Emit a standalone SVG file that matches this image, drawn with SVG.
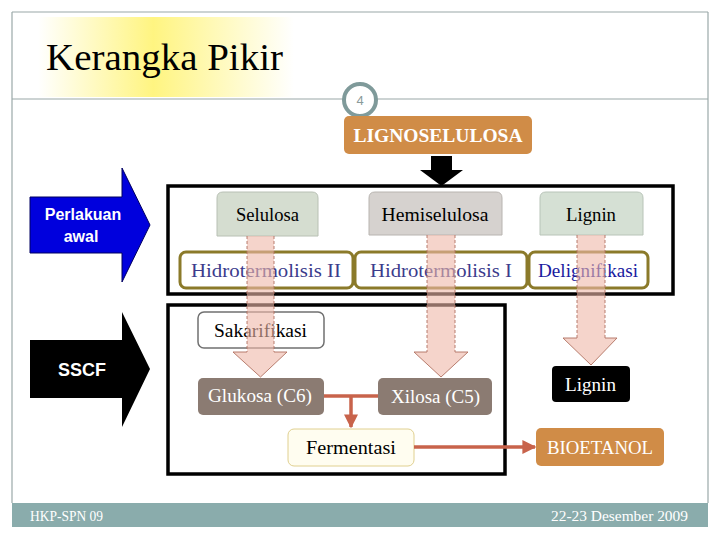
<svg xmlns="http://www.w3.org/2000/svg" width="720" height="540" viewBox="0 0 720 540" font-family="'Liberation Serif', 'DejaVu Serif', serif">
<defs>
<linearGradient id="yel" x1="0" y1="0" x2="1" y2="0">
<stop offset="0" stop-color="#fff47a" stop-opacity="0"/>
<stop offset="0.45" stop-color="#fff47a" stop-opacity="0.95"/>
<stop offset="1" stop-color="#fff47a" stop-opacity="0"/>
</linearGradient>
<marker id="oa" viewBox="0 0 10 10" refX="9" refY="5" markerWidth="4" markerHeight="4" orient="auto">
<path d="M0,0 L10,5 L0,10 z" fill="#c8634b"/>
</marker>
<style>
.frame{stroke:#9aa8a8;stroke-width:1.2;fill:none}
.t18{font-size:18px}
.hid{fill:#ffffff;stroke:#8b7a2a;stroke-width:3}
.hidt{fill:#3c3c8c}
.bbox{fill:none;stroke:#000;stroke-width:3.5}
.brown{fill:#8b7b72}
.orange{fill:#d08c47}
.pink{fill:#eeb8a8;fill-opacity:0.6;stroke:none}
.pinkd{stroke:#b07060;stroke-width:0.9;stroke-dasharray:3,2;fill:none}
.pinkh{fill:none;stroke:#b07060;stroke-width:0.9}
.oline{stroke:#c8634b;stroke-width:3.5;fill:none}
</style>
</defs>
<rect width="720" height="540" fill="#ffffff"/>
<g id="frame">
<rect x="38" y="17" width="256" height="80" fill="url(#yel)"/>
<line class="frame" x1="12" y1="12" x2="708" y2="12"/>
<line class="frame" x1="12" y1="12" x2="12" y2="503"/>
<line class="frame" x1="708" y1="12" x2="708" y2="503"/>
<line class="frame" x1="12" y1="99" x2="343" y2="99"/>
<line class="frame" x1="377" y1="99" x2="708" y2="99"/>
<rect x="12" y="503" width="696" height="24" fill="#8aacac"/>
<text x="30" y="521" font-size="14" fill="#ffffff" textLength="73" lengthAdjust="spacingAndGlyphs">HKP-SPN 09</text>
<text x="551" y="521" font-size="14" fill="#ffffff" textLength="137" lengthAdjust="spacingAndGlyphs">22-23 Desember 2009</text>
</g>
<g id="title">
<text x="46" y="70" font-size="38" fill="#000" textLength="237" lengthAdjust="spacingAndGlyphs">Kerangka Pikir</text>
</g>
<g id="pagenum">
<circle cx="360" cy="100" r="16" fill="#ffffff" stroke="#7f9a9a" stroke-width="4"/>
<text x="360" y="105" font-family="'Liberation Sans', Arial, sans-serif" font-size="13" fill="#8a9a9a" text-anchor="middle">4</text>
</g>
<g id="box-top"><rect class="bbox" x="168" y="186" width="505" height="108"/></g>
<g id="box-bottom"><rect class="bbox" x="168" y="305" width="337" height="169"/></g>
<g id="perlakuan" font-family="'Liberation Sans', Arial, sans-serif" font-weight="bold">
<polygon points="30,197 122,197 122,168 150,225 122,282 122,253 30,253" fill="#0000dd" stroke="#000060" stroke-width="1"/>
<text x="83" y="220" font-size="16" fill="#ffffff" text-anchor="middle">Perlakuan</text>
<text x="81" y="242" font-size="16" fill="#ffffff" text-anchor="middle">awal</text>
</g>
<g id="sscf" font-family="'Liberation Sans', Arial, sans-serif" font-weight="bold">
<polygon points="30,340 122,340 122,312 150,369 122,427 122,398 30,398" fill="#000000"/>
<text x="82" y="376" font-size="18" fill="#ffffff" text-anchor="middle">SSCF</text>
</g>
<g id="lignoselulosa">
<rect x="344" y="116" width="188" height="38" rx="5" class="orange"/>
<text x="438" y="142" font-size="18" font-weight="bold" fill="#ffffff" text-anchor="middle" textLength="169" lengthAdjust="spacingAndGlyphs">LIGNOSELULOSA</text>
</g>
<g id="selulosa">
<path d="M217,236 V198 Q217,192 223,192 H312 Q318,192 318,198 V236 Z" fill="#d5ddd0" stroke="#b8c0b4" stroke-width="1"/>
<text class="t18" x="267.5" y="221" text-anchor="middle" textLength="63" lengthAdjust="spacingAndGlyphs">Selulosa</text>
</g>
<g id="hemiselulosa">
<path d="M369,235 V198 Q369,192 375,192 H496 Q502,192 502,198 V235 Z" fill="#d6d2cf" stroke="#b8b4b0" stroke-width="1"/>
<text class="t18" x="435" y="221" text-anchor="middle" textLength="107" lengthAdjust="spacingAndGlyphs">Hemiselulosa</text>
</g>
<g id="lignin-top">
<path d="M540,235 V198 Q540,192 546,192 H637 Q643,192 643,198 V235 Z" fill="#d5e0d4" stroke="#b8c4b8" stroke-width="1"/>
<text class="t18" x="591" y="221" text-anchor="middle" textLength="50" lengthAdjust="spacingAndGlyphs">Lignin</text>
</g>
<g id="hidrotermolisis-2">
<rect class="hid" x="180" y="252" width="173" height="36" rx="6"/>
<text class="t18 hidt" x="266" y="277" text-anchor="middle" textLength="150" lengthAdjust="spacingAndGlyphs">Hidrotermolisis  II</text>
</g>
<g id="hidrotermolisis-1">
<rect class="hid" x="355" y="252" width="172" height="36" rx="6"/>
<text class="t18 hidt" x="441" y="277" text-anchor="middle" textLength="142" lengthAdjust="spacingAndGlyphs">Hidrotermolisis  I</text>
</g>
<g id="delignifikasi">
<rect class="hid" x="529" y="252" width="119" height="36" rx="6"/>
<text class="t18" x="588" y="277" fill="#1a1aa0" text-anchor="middle" textLength="100" lengthAdjust="spacingAndGlyphs">Delignifikasi</text>
</g>
<g id="sakarifikasi">
<rect x="198" y="312" width="126" height="36" rx="6" fill="#ffffff" stroke="#707070" stroke-width="1.5"/>
<text class="t18" x="260.5" y="337" text-anchor="middle" textLength="93" lengthAdjust="spacingAndGlyphs">Sakarifikasi</text>
</g>
<g id="glukosa">
<rect x="198" y="378" width="126" height="37" rx="5" class="brown"/>
<text class="t18" x="260" y="402" fill="#ffffff" text-anchor="middle" textLength="104" lengthAdjust="spacingAndGlyphs">Glukosa (C6)</text>
</g>
<g id="xilosa">
<rect x="378" y="378" width="114" height="37" rx="5" class="brown"/>
<text class="t18" x="435.5" y="403" fill="#ffffff" text-anchor="middle" textLength="89" lengthAdjust="spacingAndGlyphs">Xilosa (C5)</text>
</g>
<g id="lignin-bottom">
<rect x="552" y="366" width="78" height="36" rx="4" fill="#000000"/>
<text class="t18" x="590.5" y="391" fill="#ffffff" text-anchor="middle" textLength="51" lengthAdjust="spacingAndGlyphs">Lignin</text>
</g>
<g id="fermentasi">
<rect x="288" y="429" width="126" height="37" rx="6" fill="#fffdf0" stroke="#e0d090" stroke-width="1"/>
<text class="t18" x="351" y="454" text-anchor="middle" textLength="90" lengthAdjust="spacingAndGlyphs">Fermentasi</text>
</g>
<g id="bioetanol">
<rect x="536" y="428" width="128" height="38" rx="5" class="orange"/>
<text class="t18" x="600" y="454" fill="#ffffff" text-anchor="middle" textLength="106" lengthAdjust="spacingAndGlyphs">BIOETANOL</text>
</g>
<g id="connectors">
<polygon points="431,156 452,156 452,170 463,170 441.5,186 420,170 431,170" fill="#000000"/>
<polygon class="pink" points="247,236 274,236 274,352 287,352 260.5,377 233,352 247,352"/>
<path class="pinkd" d="M247,236 V352 M274,236 V352"/>
<path class="pinkh" d="M247,352 H233 L260.5,377 L287,352 H274"/>
<polygon class="pink" points="427,235 455,235 455,352 468,352 441,377 414,352 427,352"/>
<path class="pinkd" d="M427,235 V352 M455,235 V352"/>
<path class="pinkh" d="M427,352 H414 L441,377 L468,352 H455"/>
<polygon class="pink" points="577,235 605,235 605,338 617,338 591,365 563,338 577,338"/>
<path class="pinkd" d="M577,235 V338 M605,235 V338"/>
<path class="pinkh" d="M577,338 H563 L591,365 L617,338 H605"/>
<line class="oline" x1="324" y1="396" x2="378" y2="396"/>
<line class="oline" x1="351" y1="396" x2="351" y2="427" marker-end="url(#oa)"/>
<line class="oline" x1="414" y1="447" x2="535" y2="447" marker-end="url(#oa)"/>
</g>
</svg>
